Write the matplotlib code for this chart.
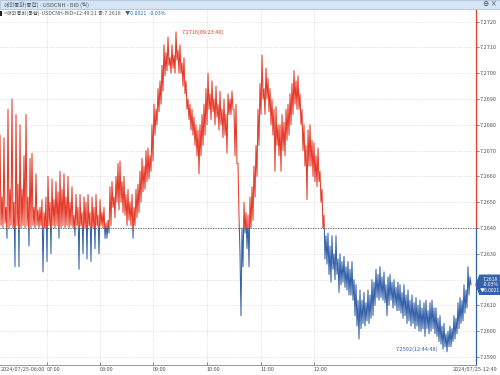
import matplotlib
matplotlib.use("Agg")
import matplotlib.pyplot as plt
import matplotlib.transforms as mtransforms
from matplotlib.patches import Rectangle, Polygon
import numpy as np

plt.rcParams['font.family'] = ['Noto Sans CJK KR', 'DejaVu Sans']

RED = '#e63b2a'
BLUE = '#3562aa'
GRAY = '#555555'

title = '해외통화(통합) - USDCNH - BID (틱)'
info_text = '<해외통화(통합)-USDCNH-BID>12:49:21 종:7.2618'
info_change = '▼0.0021  -0.03%'
box_lines = ['7.2618', '-0.03%', '▼0.0021']
base_price = 7.2640
last_price = 7.2618
max_time = '09:23:40'
min_time = '12:44:48'
start_label = '2024/07/25-06:00'
end_label = '2024/07/25-12:49'
hour_labels = ['07:00', '08:00', '09:00', '10:00', '11:00', '12:00']
hour_tick_index = [47, 100, 153, 207, 261, 314]

# high / low bid of each pair of ticks, in units of 0.0001
tick_hi = [
    72676, 72652, 72675, 72648, 72686, 72655, 72690, 72650, 72684, 72657,
    72680, 72655, 72668, 72684, 72652, 72667, 72669, 72648, 72661, 72647,
    72648, 72651, 72646, 72652, 72660, 72650, 72659, 72651, 72658, 72654,
    72662, 72655, 72661, 72652, 72660, 72650, 72656, 72645, 72653, 72648,
    72653, 72646, 72652, 72650, 72653, 72646, 72652, 72648, 72653, 72645,
    72651, 72646, 72648, 72642, 72643, 72656, 72658, 72652, 72660, 72665,
    72666, 72658, 72660, 72653, 72655, 72650, 72653, 72648, 72655, 72657,
    72662, 72667, 72664, 72670, 72671, 72668, 72680, 72688, 72686, 72694,
    72697, 72703, 72711, 72708, 72714, 72706, 72711, 72707, 72716, 72709,
    72711, 72704, 72706, 72697, 72690, 72688, 72686, 72683, 72680, 72678,
    72680, 72684, 72688, 72694, 72700, 72692, 72697, 72690, 72695, 72688,
    72693, 72686, 72690, 72684, 72692, 72690, 72693, 72686, 72688, 72665,
    72630, 72640, 72650, 72646, 72645, 72652, 72656, 72664, 72672, 72686,
    72696, 72707, 72694, 72702, 72698, 72694, 72690, 72686, 72687, 72680,
    72680, 72684, 72681, 72686, 72688, 72692, 72696, 72701, 72697, 72699,
    72692, 72686, 72680, 72672, 72678, 72680, 72674, 72673, 72668, 72671,
    72662, 72655, 72645, 72637, 72638, 72633, 72637, 72630, 72637, 72628,
    72630, 72627, 72629, 72625, 72627, 72624, 72627, 72620, 72618, 72612,
    72616, 72612, 72615, 72611, 72616, 72614, 72620, 72619, 72624, 72622,
    72625, 72621, 72623, 72618, 72621, 72622, 72619, 72620, 72617, 72619,
    72618, 72615, 72618, 72614, 72616, 72612, 72614, 72611, 72613, 72610,
    72612, 72609, 72611, 72612, 72608, 72611, 72612, 72609, 72609, 72605,
    72606, 72602, 72603, 72599, 72600, 72602, 72601, 72606, 72605, 72611,
    72613, 72612, 72618, 72616, 72625, 72621,
]
tick_lo = [
    72641, 72640, 72642, 72636, 72640, 72641, 72640, 72625, 72641, 72625,
    72640, 72641, 72640, 72641, 72633, 72640, 72641, 72640, 72641, 72640,
    72641, 72623, 72640, 72627, 72641, 72630, 72641, 72640, 72641, 72636,
    72640, 72641, 72640, 72641, 72640, 72641, 72640, 72637, 72641, 72624,
    72641, 72630, 72640, 72628, 72641, 72627, 72640, 72632, 72641, 72630,
    72641, 72640, 72636, 72636, 72638, 72641, 72648, 72644, 72650, 72647,
    72650, 72646, 72645, 72641, 72643, 72641, 72636, 72641, 72644, 72646,
    72650, 72654, 72655, 72658, 72659, 72662, 72666, 72676, 72680, 72685,
    72688, 72693, 72699, 72701, 72703, 72700, 72702, 72700, 72705, 72700,
    72700, 72695, 72692, 72686, 72682, 72678, 72676, 72672, 72668, 72661,
    72668, 72672, 72676, 72680, 72686, 72682, 72685, 72680, 72683, 72678,
    72680, 72675, 72676, 72669, 72684, 72684, 72686, 72668, 72665, 72645,
    72606, 72625, 72638, 72632, 72625, 72640, 72643, 72652, 72660, 72672,
    72684, 72690, 72684, 72690, 72685, 72680, 72676, 72662, 72672, 72668,
    72662, 72670, 72668, 72674, 72676, 72680, 72684, 72688, 72686, 72686,
    72680, 72670, 72664, 72651, 72664, 72664, 72660, 72658, 72656, 72658,
    72650, 72640, 72628, 72626, 72622, 72619, 72624, 72620, 72622, 72615,
    72618, 72619, 72617, 72616, 72614, 72614, 72612, 72606, 72602, 72597,
    72601, 72603, 72602, 72604, 72603, 72605, 72606, 72610, 72613, 72612,
    72613, 72612, 72611, 72606, 72610, 72612, 72609, 72610, 72608, 72608,
    72607, 72605, 72606, 72603, 72604, 72602, 72603, 72601, 72602, 72600,
    72600, 72601, 72598, 72601, 72599, 72600, 72601, 72599, 72598, 72596,
    72595, 72593, 72594, 72592, 72594, 72594, 72596, 72597, 72599, 72601,
    72603, 72604, 72607, 72609, 72614, 72618,
]

price = np.column_stack([tick_hi, tick_lo]).ravel() / 10000.0
x = np.arange(len(price))

fig = plt.figure(figsize=(5, 3.75), dpi=100)
ax = fig.add_axes([0, 10 / 375, 476 / 500, 355 / 375])
ymin, ymax = 7.25869, 7.27245
xmax = 476
ax.set_xlim(0, xmax)
ax.set_ylim(ymin, ymax)

# line coloured by side of the base price
up, = ax.plot(x, price, color=RED, lw=0.75)
up.set_clip_path(Rectangle((0, base_price), xmax, ymax - base_price, transform=ax.transData))
dn, = ax.plot(x, price, color=BLUE, lw=0.75)
dn.set_clip_path(Rectangle((0, ymin), xmax, base_price - ymin, transform=ax.transData))

ax.axhline(base_price, color=GRAY, lw=0.6, ls=(0, (1.5, 1.5)))

# grid and axes
yt = np.arange(7.2590, 7.27205, 0.001)
ax.set_yticks(yt, ['' if abs(v - last_price) < 0.0004 else f'{v:.4f}' for v in yt])
ax.yaxis.tick_right()
ax.tick_params(axis='y', direction='out', length=2, width=0.5, pad=0.5,
               labelsize=4, labelcolor=GRAY, color=GRAY)
ax.set_xticks(hour_tick_index, hour_labels)
ax.tick_params(axis='x', direction='in', length=2, width=0.5, pad=1.5,
               labelsize=4, labelcolor=GRAY, color=GRAY)
for lbl in ax.get_xticklabels():
    lbl.set_ha('left')
ax.grid(True, color='#d0d0d0', lw=0.5, ls=(0, (1, 1.5)))
for s in ['top', 'left', 'right']:
    ax.spines[s].set_visible(False)
ax.spines['bottom'].set_color('#888888')
ax.spines['bottom'].set_linewidth(0.6)

fb = (base_price - ymin) / (ymax - ymin)
ax.axvline(xmax, ymin=fb, ymax=1, color=RED, lw=0.9, clip_on=False)
ax.axvline(xmax, ymin=0, ymax=fb, color=BLUE, lw=0.9, clip_on=False)

fig.text(1 / 500, 5 / 375, start_label, fontsize=4, color=GRAY, va='center', ha='left')
fig.text(498 / 500, 5 / 375, end_label, fontsize=4, color=GRAY, va='center', ha='right')

# max / min markers
imax = int(np.argmax(price))
imin = int(np.argmin(price))
ax.annotate(f'{price[imax]:.4f}({max_time})', xy=(imax, price[imax]),
            xytext=(4, 0), textcoords='offset points', fontsize=4, color=RED,
            va='center', ha='left', arrowprops=dict(arrowstyle='-', color=RED, lw=0.5))
ax.annotate(f'{price[imin]:.4f}({min_time})', xy=(imin, price[imin]),
            xytext=(-6, 2), textcoords='offset points', fontsize=4, color=BLUE,
            va='center', ha='right', arrowprops=dict(arrowstyle='-', color=BLUE, lw=0.5))

# last price box on the right axis
tr = mtransforms.blended_transform_factory(ax.transAxes, ax.transData)
h = 0.00037
right = 500 / 476
box = Polygon([(1.0, last_price), (1.008, last_price + h), (right, last_price + h),
               (right, last_price - h), (1.008, last_price - h)],
              closed=True, transform=tr, facecolor=BLUE, edgecolor=BLUE,
              clip_on=False, zorder=5)
ax.add_patch(box)
ax.text(1.03, last_price, '\n'.join(box_lines), transform=tr, fontsize=3.6,
        color='white', ha='center', va='center', linespacing=1.0,
        clip_on=False, zorder=6)

# header
fig.patches.append(Rectangle((0, 1 - 9 / 375), 1, 9 / 375, transform=fig.transFigure,
                             facecolor='#d5e5f5', edgecolor='#a9c3dd', lw=0.6))
fig.text(4 / 500, 1 - 4.5 / 375, title, fontsize=4, color=GRAY, va='center')
fig.text(497 / 500, 1 - 4.5 / 375, '⊖ ×', fontsize=4.5, color='#333333', va='center', ha='right')
fig.patches.append(Rectangle((0, 1 - 16 / 375), 2 / 500, 5 / 375, transform=fig.transFigure,
                             facecolor='#222222', lw=0))
t1 = fig.text(4 / 500, 1 - 13.5 / 375, info_text, fontsize=3.8, color=GRAY, va='center')
ax.annotate(info_change, xy=(1, 0.5), xycoords=t1, xytext=(3, 0),
            textcoords='offset points', fontsize=3.8, color=BLUE,
            va='center', ha='left', annotation_clip=False)

fig.savefig('out.png', dpi=100)
